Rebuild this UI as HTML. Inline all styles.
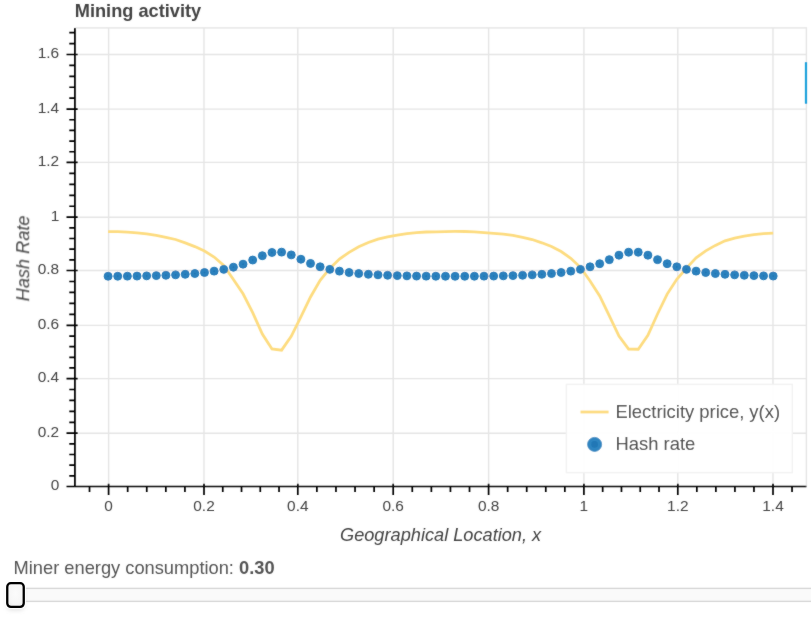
<!DOCTYPE html><html><head><meta charset="utf-8"><style>
html,body{margin:0;padding:0;background:#fff;width:811px;height:623px;overflow:hidden;}
svg{position:absolute;left:0;top:0;}
text{font-family:"Liberation Sans",sans-serif;fill:#444444;}
</style></head><body>
<svg width="811" height="623" viewBox="0 0 811 623">
<defs><filter id="soft" x="0" y="0" width="811" height="623" filterUnits="userSpaceOnUse"><feConvolveMatrix order="3" kernelMatrix="1 2 1 2 28 2 1 2 1" edgeMode="duplicate" preserveAlpha="false"/></filter></defs><g filter="url(#soft)">
<path d="M108.60 27.90V486.50M204.00 27.90V486.50M297.80 27.90V486.50M393.20 27.90V486.50M488.60 27.90V486.50M583.90 27.90V486.50M677.80 27.90V486.50M773.00 27.90V486.50M74.90 433.20H806.40M74.90 378.60H806.40M74.90 325.40H806.40M74.90 270.50H806.40M74.90 217.20H806.40M74.90 162.40H806.40M74.90 109.10H806.40M74.90 54.50H806.40" stroke="#e5e5e5" stroke-width="1.40" fill="none"/>
<rect x="74.90" y="27.90" width="731.50" height="458.60" stroke="#e5e5e5" stroke-width="1.40" fill="none"/>
<polyline points="108.10,231.59 117.74,231.72 127.38,232.20 137.02,232.86 146.66,233.85 156.30,235.33 165.93,237.38 175.57,239.50 185.21,242.85 194.85,246.58 204.49,251.08 214.13,257.03 223.77,265.47 233.41,279.57 243.05,293.79 252.69,312.56 262.33,334.05 271.96,348.97 281.60,350.15 291.24,336.25 300.88,316.92 310.52,296.98 320.16,280.28 329.80,268.42 339.44,259.02 349.08,252.32 358.72,246.73 368.36,242.45 377.99,239.06 387.63,236.93 397.27,235.02 406.91,233.57 416.55,232.68 426.19,232.02 435.83,231.89 445.47,231.53 455.11,231.46 464.75,231.50 474.39,231.80 484.02,232.56 493.66,233.43 503.30,234.13 512.94,235.45 522.58,237.28 532.22,239.53 541.86,242.80 551.50,246.43 561.14,251.52 570.78,258.30 580.42,267.34 590.06,280.99 599.69,295.90 609.33,315.89 618.97,335.99 628.61,349.08 638.25,349.22 647.89,335.37 657.53,314.00 667.17,294.11 676.81,279.23 686.45,268.09 696.09,257.86 705.72,250.83 715.36,245.37 725.00,240.83 734.64,238.14 744.28,236.08 753.92,234.64 763.56,233.70 773.20,233.09" fill="none" stroke="#fddc80" stroke-width="2.8" stroke-linejoin="miter"/>
<circle cx="108.10" cy="276.23" r="3.95" fill="#2c81be" stroke="#2379b7" stroke-width="1.0"/><circle cx="108.10" cy="276.23" r="0.9" fill="#1f75b2"/>
<circle cx="117.74" cy="276.20" r="3.95" fill="#2c81be" stroke="#2379b7" stroke-width="1.0"/><circle cx="117.74" cy="276.20" r="0.9" fill="#1f75b2"/>
<circle cx="127.38" cy="276.15" r="3.95" fill="#2c81be" stroke="#2379b7" stroke-width="1.0"/><circle cx="127.38" cy="276.15" r="0.9" fill="#1f75b2"/>
<circle cx="137.02" cy="276.07" r="3.95" fill="#2c81be" stroke="#2379b7" stroke-width="1.0"/><circle cx="137.02" cy="276.07" r="0.9" fill="#1f75b2"/>
<circle cx="146.66" cy="275.85" r="3.95" fill="#2c81be" stroke="#2379b7" stroke-width="1.0"/><circle cx="146.66" cy="275.85" r="0.9" fill="#1f75b2"/>
<circle cx="156.30" cy="275.58" r="3.95" fill="#2c81be" stroke="#2379b7" stroke-width="1.0"/><circle cx="156.30" cy="275.58" r="0.9" fill="#1f75b2"/>
<circle cx="165.93" cy="275.26" r="3.95" fill="#2c81be" stroke="#2379b7" stroke-width="1.0"/><circle cx="165.93" cy="275.26" r="0.9" fill="#1f75b2"/>
<circle cx="175.57" cy="274.83" r="3.95" fill="#2c81be" stroke="#2379b7" stroke-width="1.0"/><circle cx="175.57" cy="274.83" r="0.9" fill="#1f75b2"/>
<circle cx="185.21" cy="274.29" r="3.95" fill="#2c81be" stroke="#2379b7" stroke-width="1.0"/><circle cx="185.21" cy="274.29" r="0.9" fill="#1f75b2"/>
<circle cx="194.85" cy="273.53" r="3.95" fill="#2c81be" stroke="#2379b7" stroke-width="1.0"/><circle cx="194.85" cy="273.53" r="0.9" fill="#1f75b2"/>
<circle cx="204.49" cy="272.50" r="3.95" fill="#2c81be" stroke="#2379b7" stroke-width="1.0"/><circle cx="204.49" cy="272.50" r="0.9" fill="#1f75b2"/>
<circle cx="214.13" cy="271.15" r="3.95" fill="#2c81be" stroke="#2379b7" stroke-width="1.0"/><circle cx="214.13" cy="271.15" r="0.9" fill="#1f75b2"/>
<circle cx="223.77" cy="269.37" r="3.95" fill="#2c81be" stroke="#2379b7" stroke-width="1.0"/><circle cx="223.77" cy="269.37" r="0.9" fill="#1f75b2"/>
<circle cx="233.41" cy="267.21" r="3.95" fill="#2c81be" stroke="#2379b7" stroke-width="1.0"/><circle cx="233.41" cy="267.21" r="0.9" fill="#1f75b2"/>
<circle cx="243.05" cy="264.19" r="3.95" fill="#2c81be" stroke="#2379b7" stroke-width="1.0"/><circle cx="243.05" cy="264.19" r="0.9" fill="#1f75b2"/>
<circle cx="252.69" cy="260.05" r="3.95" fill="#2c81be" stroke="#2379b7" stroke-width="1.0"/><circle cx="252.69" cy="260.05" r="0.9" fill="#1f75b2"/>
<circle cx="262.33" cy="255.71" r="3.95" fill="#2c81be" stroke="#2379b7" stroke-width="1.0"/><circle cx="262.33" cy="255.71" r="0.9" fill="#1f75b2"/>
<circle cx="271.96" cy="252.49" r="3.95" fill="#2c81be" stroke="#2379b7" stroke-width="1.0"/><circle cx="271.96" cy="252.49" r="0.9" fill="#1f75b2"/>
<circle cx="281.60" cy="252.14" r="3.95" fill="#2c81be" stroke="#2379b7" stroke-width="1.0"/><circle cx="281.60" cy="252.14" r="0.9" fill="#1f75b2"/>
<circle cx="291.24" cy="254.90" r="3.95" fill="#2c81be" stroke="#2379b7" stroke-width="1.0"/><circle cx="291.24" cy="254.90" r="0.9" fill="#1f75b2"/>
<circle cx="300.88" cy="259.24" r="3.95" fill="#2c81be" stroke="#2379b7" stroke-width="1.0"/><circle cx="300.88" cy="259.24" r="0.9" fill="#1f75b2"/>
<circle cx="310.52" cy="263.43" r="3.95" fill="#2c81be" stroke="#2379b7" stroke-width="1.0"/><circle cx="310.52" cy="263.43" r="0.9" fill="#1f75b2"/>
<circle cx="320.16" cy="266.81" r="3.95" fill="#2c81be" stroke="#2379b7" stroke-width="1.0"/><circle cx="320.16" cy="266.81" r="0.9" fill="#1f75b2"/>
<circle cx="329.80" cy="269.37" r="3.95" fill="#2c81be" stroke="#2379b7" stroke-width="1.0"/><circle cx="329.80" cy="269.37" r="0.9" fill="#1f75b2"/>
<circle cx="339.44" cy="271.15" r="3.95" fill="#2c81be" stroke="#2379b7" stroke-width="1.0"/><circle cx="339.44" cy="271.15" r="0.9" fill="#1f75b2"/>
<circle cx="349.08" cy="272.50" r="3.95" fill="#2c81be" stroke="#2379b7" stroke-width="1.0"/><circle cx="349.08" cy="272.50" r="0.9" fill="#1f75b2"/>
<circle cx="358.72" cy="273.53" r="3.95" fill="#2c81be" stroke="#2379b7" stroke-width="1.0"/><circle cx="358.72" cy="273.53" r="0.9" fill="#1f75b2"/>
<circle cx="368.36" cy="274.29" r="3.95" fill="#2c81be" stroke="#2379b7" stroke-width="1.0"/><circle cx="368.36" cy="274.29" r="0.9" fill="#1f75b2"/>
<circle cx="377.99" cy="274.83" r="3.95" fill="#2c81be" stroke="#2379b7" stroke-width="1.0"/><circle cx="377.99" cy="274.83" r="0.9" fill="#1f75b2"/>
<circle cx="387.63" cy="275.26" r="3.95" fill="#2c81be" stroke="#2379b7" stroke-width="1.0"/><circle cx="387.63" cy="275.26" r="0.9" fill="#1f75b2"/>
<circle cx="397.27" cy="275.58" r="3.95" fill="#2c81be" stroke="#2379b7" stroke-width="1.0"/><circle cx="397.27" cy="275.58" r="0.9" fill="#1f75b2"/>
<circle cx="406.91" cy="275.85" r="3.95" fill="#2c81be" stroke="#2379b7" stroke-width="1.0"/><circle cx="406.91" cy="275.85" r="0.9" fill="#1f75b2"/>
<circle cx="416.55" cy="276.07" r="3.95" fill="#2c81be" stroke="#2379b7" stroke-width="1.0"/><circle cx="416.55" cy="276.07" r="0.9" fill="#1f75b2"/>
<circle cx="426.19" cy="276.15" r="3.95" fill="#2c81be" stroke="#2379b7" stroke-width="1.0"/><circle cx="426.19" cy="276.15" r="0.9" fill="#1f75b2"/>
<circle cx="435.83" cy="276.20" r="3.95" fill="#2c81be" stroke="#2379b7" stroke-width="1.0"/><circle cx="435.83" cy="276.20" r="0.9" fill="#1f75b2"/>
<circle cx="445.47" cy="276.23" r="3.95" fill="#2c81be" stroke="#2379b7" stroke-width="1.0"/><circle cx="445.47" cy="276.23" r="0.9" fill="#1f75b2"/>
<circle cx="455.11" cy="276.26" r="3.95" fill="#2c81be" stroke="#2379b7" stroke-width="1.0"/><circle cx="455.11" cy="276.26" r="0.9" fill="#1f75b2"/>
<circle cx="464.75" cy="276.23" r="3.95" fill="#2c81be" stroke="#2379b7" stroke-width="1.0"/><circle cx="464.75" cy="276.23" r="0.9" fill="#1f75b2"/>
<circle cx="474.39" cy="276.20" r="3.95" fill="#2c81be" stroke="#2379b7" stroke-width="1.0"/><circle cx="474.39" cy="276.20" r="0.9" fill="#1f75b2"/>
<circle cx="484.02" cy="276.15" r="3.95" fill="#2c81be" stroke="#2379b7" stroke-width="1.0"/><circle cx="484.02" cy="276.15" r="0.9" fill="#1f75b2"/>
<circle cx="493.66" cy="276.07" r="3.95" fill="#2c81be" stroke="#2379b7" stroke-width="1.0"/><circle cx="493.66" cy="276.07" r="0.9" fill="#1f75b2"/>
<circle cx="503.30" cy="275.85" r="3.95" fill="#2c81be" stroke="#2379b7" stroke-width="1.0"/><circle cx="503.30" cy="275.85" r="0.9" fill="#1f75b2"/>
<circle cx="512.94" cy="275.58" r="3.95" fill="#2c81be" stroke="#2379b7" stroke-width="1.0"/><circle cx="512.94" cy="275.58" r="0.9" fill="#1f75b2"/>
<circle cx="522.58" cy="275.26" r="3.95" fill="#2c81be" stroke="#2379b7" stroke-width="1.0"/><circle cx="522.58" cy="275.26" r="0.9" fill="#1f75b2"/>
<circle cx="532.22" cy="274.83" r="3.95" fill="#2c81be" stroke="#2379b7" stroke-width="1.0"/><circle cx="532.22" cy="274.83" r="0.9" fill="#1f75b2"/>
<circle cx="541.86" cy="274.29" r="3.95" fill="#2c81be" stroke="#2379b7" stroke-width="1.0"/><circle cx="541.86" cy="274.29" r="0.9" fill="#1f75b2"/>
<circle cx="551.50" cy="273.53" r="3.95" fill="#2c81be" stroke="#2379b7" stroke-width="1.0"/><circle cx="551.50" cy="273.53" r="0.9" fill="#1f75b2"/>
<circle cx="561.14" cy="272.50" r="3.95" fill="#2c81be" stroke="#2379b7" stroke-width="1.0"/><circle cx="561.14" cy="272.50" r="0.9" fill="#1f75b2"/>
<circle cx="570.78" cy="271.15" r="3.95" fill="#2c81be" stroke="#2379b7" stroke-width="1.0"/><circle cx="570.78" cy="271.15" r="0.9" fill="#1f75b2"/>
<circle cx="580.42" cy="269.37" r="3.95" fill="#2c81be" stroke="#2379b7" stroke-width="1.0"/><circle cx="580.42" cy="269.37" r="0.9" fill="#1f75b2"/>
<circle cx="590.06" cy="266.81" r="3.95" fill="#2c81be" stroke="#2379b7" stroke-width="1.0"/><circle cx="590.06" cy="266.81" r="0.9" fill="#1f75b2"/>
<circle cx="599.69" cy="263.70" r="3.95" fill="#2c81be" stroke="#2379b7" stroke-width="1.0"/><circle cx="599.69" cy="263.70" r="0.9" fill="#1f75b2"/>
<circle cx="609.33" cy="259.65" r="3.95" fill="#2c81be" stroke="#2379b7" stroke-width="1.0"/><circle cx="609.33" cy="259.65" r="0.9" fill="#1f75b2"/>
<circle cx="618.97" cy="255.19" r="3.95" fill="#2c81be" stroke="#2379b7" stroke-width="1.0"/><circle cx="618.97" cy="255.19" r="0.9" fill="#1f75b2"/>
<circle cx="628.61" cy="252.22" r="3.95" fill="#2c81be" stroke="#2379b7" stroke-width="1.0"/><circle cx="628.61" cy="252.22" r="0.9" fill="#1f75b2"/>
<circle cx="638.25" cy="252.22" r="3.95" fill="#2c81be" stroke="#2379b7" stroke-width="1.0"/><circle cx="638.25" cy="252.22" r="0.9" fill="#1f75b2"/>
<circle cx="647.89" cy="255.19" r="3.95" fill="#2c81be" stroke="#2379b7" stroke-width="1.0"/><circle cx="647.89" cy="255.19" r="0.9" fill="#1f75b2"/>
<circle cx="657.53" cy="259.65" r="3.95" fill="#2c81be" stroke="#2379b7" stroke-width="1.0"/><circle cx="657.53" cy="259.65" r="0.9" fill="#1f75b2"/>
<circle cx="667.17" cy="263.70" r="3.95" fill="#2c81be" stroke="#2379b7" stroke-width="1.0"/><circle cx="667.17" cy="263.70" r="0.9" fill="#1f75b2"/>
<circle cx="676.81" cy="266.81" r="3.95" fill="#2c81be" stroke="#2379b7" stroke-width="1.0"/><circle cx="676.81" cy="266.81" r="0.9" fill="#1f75b2"/>
<circle cx="686.45" cy="269.37" r="3.95" fill="#2c81be" stroke="#2379b7" stroke-width="1.0"/><circle cx="686.45" cy="269.37" r="0.9" fill="#1f75b2"/>
<circle cx="696.09" cy="271.15" r="3.95" fill="#2c81be" stroke="#2379b7" stroke-width="1.0"/><circle cx="696.09" cy="271.15" r="0.9" fill="#1f75b2"/>
<circle cx="705.72" cy="272.50" r="3.95" fill="#2c81be" stroke="#2379b7" stroke-width="1.0"/><circle cx="705.72" cy="272.50" r="0.9" fill="#1f75b2"/>
<circle cx="715.36" cy="273.53" r="3.95" fill="#2c81be" stroke="#2379b7" stroke-width="1.0"/><circle cx="715.36" cy="273.53" r="0.9" fill="#1f75b2"/>
<circle cx="725.00" cy="274.29" r="3.95" fill="#2c81be" stroke="#2379b7" stroke-width="1.0"/><circle cx="725.00" cy="274.29" r="0.9" fill="#1f75b2"/>
<circle cx="734.64" cy="274.83" r="3.95" fill="#2c81be" stroke="#2379b7" stroke-width="1.0"/><circle cx="734.64" cy="274.83" r="0.9" fill="#1f75b2"/>
<circle cx="744.28" cy="275.26" r="3.95" fill="#2c81be" stroke="#2379b7" stroke-width="1.0"/><circle cx="744.28" cy="275.26" r="0.9" fill="#1f75b2"/>
<circle cx="753.92" cy="275.58" r="3.95" fill="#2c81be" stroke="#2379b7" stroke-width="1.0"/><circle cx="753.92" cy="275.58" r="0.9" fill="#1f75b2"/>
<circle cx="763.56" cy="275.85" r="3.95" fill="#2c81be" stroke="#2379b7" stroke-width="1.0"/><circle cx="763.56" cy="275.85" r="0.9" fill="#1f75b2"/>
<circle cx="773.20" cy="276.07" r="3.95" fill="#2c81be" stroke="#2379b7" stroke-width="1.0"/><circle cx="773.20" cy="276.07" r="0.9" fill="#1f75b2"/>
<path d="M74.90 27.90V486.50M74.90 486.50H806.40M66.50 486.50H77.70M66.50 433.20H77.70M66.50 378.60H77.70M66.50 325.40H77.70M66.50 270.50H77.70M66.50 217.20H77.70M66.50 162.40H77.70M66.50 109.10H77.70M66.50 54.50H77.70M69.30 65.42H74.90M69.30 76.34H74.90M69.30 87.26H74.90M69.30 98.18H74.90M69.30 119.76H74.90M69.30 130.42H74.90M69.30 141.08H74.90M69.30 151.74H74.90M69.30 173.36H74.90M69.30 184.32H74.90M69.30 195.28H74.90M69.30 206.24H74.90M69.30 227.86H74.90M69.30 238.52H74.90M69.30 249.18H74.90M69.30 259.84H74.90M69.30 281.48H74.90M69.30 292.46H74.90M69.30 303.44H74.90M69.30 314.42H74.90M69.30 336.04H74.90M69.30 346.68H74.90M69.30 357.32H74.90M69.30 367.96H74.90M69.30 389.52H74.90M69.30 400.44H74.90M69.30 411.36H74.90M69.30 422.28H74.90M69.30 443.86H74.90M69.30 454.52H74.90M69.30 465.18H74.90M69.30 475.84H74.90M69.30 43.58H74.90M69.30 32.66H74.90M108.60 483.70V494.90M204.00 483.70V494.90M297.80 483.70V494.90M393.20 483.70V494.90M488.60 483.70V494.90M583.90 483.70V494.90M677.80 483.70V494.90M773.00 483.70V494.90M127.68 486.50V492.10M146.76 486.50V492.10M165.84 486.50V492.10M184.92 486.50V492.10M222.76 486.50V492.10M241.52 486.50V492.10M260.28 486.50V492.10M279.04 486.50V492.10M316.88 486.50V492.10M335.96 486.50V492.10M355.04 486.50V492.10M374.12 486.50V492.10M412.28 486.50V492.10M431.36 486.50V492.10M450.44 486.50V492.10M469.52 486.50V492.10M507.66 486.50V492.10M526.72 486.50V492.10M545.78 486.50V492.10M564.84 486.50V492.10M602.68 486.50V492.10M621.46 486.50V492.10M640.24 486.50V492.10M659.02 486.50V492.10M696.84 486.50V492.10M715.88 486.50V492.10M734.92 486.50V492.10M753.96 486.50V492.10M89.52 486.50V492.10M792.04 486.50V492.10" stroke="#000" stroke-width="1.7" fill="none"/>
<text x="59.2" y="490.30" font-size="15.4" text-anchor="end">0</text>
<text x="59.2" y="437.00" font-size="15.4" text-anchor="end">0.2</text>
<text x="59.2" y="382.40" font-size="15.4" text-anchor="end">0.4</text>
<text x="59.2" y="329.20" font-size="15.4" text-anchor="end">0.6</text>
<text x="59.2" y="274.30" font-size="15.4" text-anchor="end">0.8</text>
<text x="59.2" y="221.00" font-size="15.4" text-anchor="end">1</text>
<text x="59.2" y="166.20" font-size="15.4" text-anchor="end">1.2</text>
<text x="59.2" y="112.90" font-size="15.4" text-anchor="end">1.4</text>
<text x="59.2" y="58.30" font-size="15.4" text-anchor="end">1.6</text>
<text x="108.60" y="511.2" font-size="15.4" text-anchor="middle">0</text>
<text x="204.00" y="511.2" font-size="15.4" text-anchor="middle">0.2</text>
<text x="297.80" y="511.2" font-size="15.4" text-anchor="middle">0.4</text>
<text x="393.20" y="511.2" font-size="15.4" text-anchor="middle">0.6</text>
<text x="488.60" y="511.2" font-size="15.4" text-anchor="middle">0.8</text>
<text x="583.90" y="511.2" font-size="15.4" text-anchor="middle">1</text>
<text x="677.80" y="511.2" font-size="15.4" text-anchor="middle">1.2</text>
<text x="773.00" y="511.2" font-size="15.4" text-anchor="middle">1.4</text>
<text x="74.8" y="17.3" font-size="18.2" font-weight="bold">Mining activity</text>
<text x="440.6" y="540.8" font-size="18.2" font-style="italic" text-anchor="middle">Geographical Location, x</text>
<text transform="translate(29.2 258.4) rotate(-90)" x="0" y="0" font-size="18.2" font-style="italic" text-anchor="middle">Hash Rate</text>
<rect x="566.4" y="384.4" width="225.9" height="88.2" fill="#fff" fill-opacity="0.95" stroke="#f2f2f2" stroke-width="1.40"/>
<path d="M580.5 412H608.6" stroke="#fddc80" stroke-width="2.8"/>
<circle cx="594.6" cy="444.4" r="7.0" fill="#2e85c1" stroke="#2a80bd" stroke-width="0.8"/><circle cx="594.6" cy="444.4" r="3.3" fill="#2077b5"/>
<text x="615.5" y="418.4" font-size="18.4">Electricity price, y(x)</text>
<text x="615.5" y="449.7" font-size="18.4">Hash rate</text>
<text x="13.6" y="573.7" font-size="18.28" style="fill:#555">Miner energy consumption: <tspan font-weight="bold">0.30</tspan></text>
<rect x="14" y="588.4" width="820" height="13" rx="5.4" fill="#fafafa" stroke="#d3d3d3" stroke-width="1.4"/>
<defs><filter id="sh" x="-50%" y="-50%" width="200%" height="200%"><feGaussianBlur stdDeviation="2"/></filter></defs>
<rect x="7" y="586" width="17" height="24" rx="4" fill="#bbb" opacity="0.5" filter="url(#sh)"/>
<rect x="5.2" y="581.2" width="20.6" height="27.6" rx="5" fill="#fff"/>
<rect x="804.9" y="62.1" width="2.2" height="41.7" fill="#1ea2dc"/>
</g>
<defs><radialGradient id="hg" cx="50%" cy="45%" r="60%"><stop offset="0" stop-color="#fbfbfb"/><stop offset="0.7" stop-color="#f6f6f6"/><stop offset="1" stop-color="#ececec"/></radialGradient></defs>
<rect x="7.25" y="583.2" width="16.5" height="23.7" rx="3.6" fill="url(#hg)" stroke="#000" stroke-width="2.3"/>
</svg></body></html>
